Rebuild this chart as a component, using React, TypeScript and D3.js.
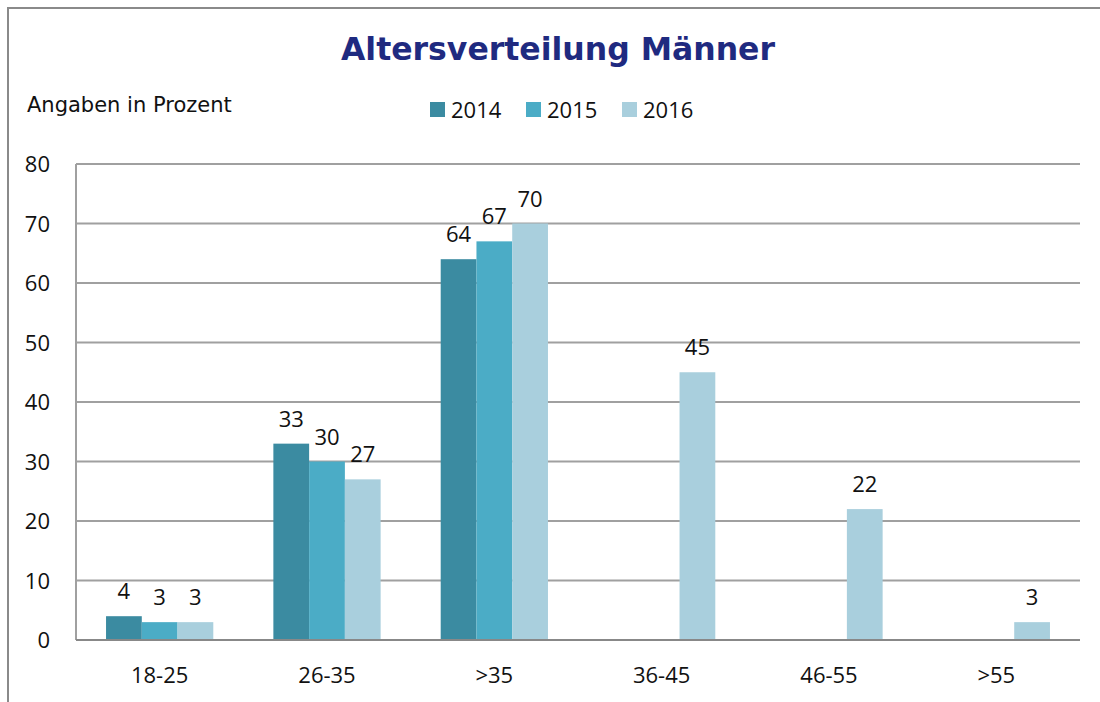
import { useRef, useEffect } from 'react'
import * as d3 from 'd3'

const CATEGORIES = ['18-25', '26-35', '>35', '36-45', '46-55', '>55']
const YEARS = ['2014', '2015', '2016']
const VALUES_2014: (number | null)[] = [4, 33, 64, null, null, null]
const VALUES_2015: (number | null)[] = [3, 30, 67, null, null, null]
const VALUES_2016: (number | null)[] = [3, 27, 70, 45, 22, 3]
const Y_TICKS = [0, 10, 20, 30, 40, 50, 60, 70, 80]

const COLORS = ['#3B8BA1', '#4BACC6', '#A9CFDD']
const W = 1100
const H = 702
const PLOT = { left: 76, right: 1080, top: 164, bottom: 640 }
const FONT = "'Open Sans', 'Liberation Sans', sans-serif"

export default function App() {
  const svgRef = useRef<SVGSVGElement>(null)

  useEffect(() => {
    document.body.style.margin = '0'
    document.body.style.overflow = 'hidden'
    if (!svgRef.current) return
    const svg = d3.select(svgRef.current)
    svg.selectAll('*').remove()

    const series = [VALUES_2014, VALUES_2015, VALUES_2016]

    const x = d3.scaleBand().domain(CATEGORIES).range([PLOT.left, PLOT.right]).paddingInner(0).paddingOuter(0)
    const inner = d3.scaleBand().domain(YEARS).range([0, x.bandwidth()]).paddingOuter(0.84).paddingInner(0)
    const y = d3.scaleLinear().domain([0, 80]).range([PLOT.bottom, PLOT.top])

    svg.append('rect').attr('width', W).attr('height', H).attr('fill', '#fff')

    // outer frame (left + top only visible)
    svg.append('line')
      .attr('x1', 8).attr('x2', 8).attr('y1', 7).attr('y2', H)
      .attr('stroke', '#8A8A8A').attr('stroke-width', 2)
    svg.append('line')
      .attr('x1', 7).attr('x2', W).attr('y1', 8).attr('y2', 8)
      .attr('stroke', '#8A8A8A').attr('stroke-width', 2)

    // title
    svg.append('text')
      .attr('x', 558).attr('y', 60)
      .attr('text-anchor', 'middle')
      .attr('font-family', "'DejaVu Sans', Verdana, sans-serif")
      .attr('font-weight', 'bold').attr('font-size', 31.5)
      .attr('fill', '#1F2A80')
      .text('Altersverteilung Männer')

    svg.append('text')
      .attr('x', 27).attr('y', 112)
      .attr('font-family', "'DejaVu Sans', Verdana, sans-serif")
      .attr('font-size', 21).attr('fill', '#111')
      .text('Angaben in Prozent')

    // legend
    const legendX = [430, 526, 622]
    YEARS.forEach((yr, i) => {
      svg.append('rect')
        .attr('x', legendX[i]).attr('y', 102).attr('width', 15).attr('height', 15)
        .attr('fill', COLORS[i])
      svg.append('text')
        .attr('x', legendX[i] + 21).attr('y', 118)
        .attr('font-family', FONT).attr('font-size', 22).attr('fill', '#111')
        .text(yr)
    })

    // gridlines
    svg.append('g')
      .selectAll('line')
      .data(Y_TICKS.filter((t) => t > 0))
      .join('line')
      .attr('x1', PLOT.left).attr('x2', PLOT.right)
      .attr('y1', (d) => y(d)).attr('y2', (d) => y(d))
      .attr('stroke', '#A0A0A0').attr('stroke-width', 2)

    // y tick labels
    svg.append('g')
      .selectAll('text')
      .data(Y_TICKS)
      .join('text')
      .attr('x', 50).attr('y', (d) => y(d) + 8)
      .attr('text-anchor', 'end')
      .attr('font-family', FONT).attr('font-size', 22).attr('fill', '#111')
      .text((d) => d)

    // bars
    series.forEach((vals, si) => {
      const g = svg.append('g')
      CATEGORIES.forEach((c, ci) => {
        const v = vals[ci]
        if (v == null) return
        const bx = (x(c) ?? 0) + (inner(YEARS[si]) ?? 0)
        g.append('rect')
          .attr('x', bx).attr('y', y(v))
          .attr('width', inner.bandwidth()).attr('height', y(0) - y(v))
          .attr('fill', COLORS[si])
        g.append('text')
          .attr('x', bx + inner.bandwidth() / 2).attr('y', y(v) - 17)
          .attr('text-anchor', 'middle')
          .attr('font-family', FONT).attr('font-size', 22).attr('fill', '#111')
          .text(v)
      })
    })

    // plot left edge + baseline
    svg.append('line')
      .attr('x1', PLOT.left).attr('x2', PLOT.left)
      .attr('y1', PLOT.top).attr('y2', PLOT.bottom)
      .attr('stroke', '#A0A0A0').attr('stroke-width', 2)
    svg.append('line')
      .attr('x1', PLOT.left).attr('x2', PLOT.right)
      .attr('y1', y(0)).attr('y2', y(0))
      .attr('stroke', '#888').attr('stroke-width', 2)

    // x labels
    svg.append('g')
      .selectAll('text')
      .data(CATEGORIES)
      .join('text')
      .attr('x', (d) => (x(d) ?? 0) + x.bandwidth() / 2)
      .attr('y', 683)
      .attr('text-anchor', 'middle')
      .attr('font-family', FONT).attr('font-size', 22).attr('fill', '#111')
      .text((d) => d)
  }, [])

  return (
    <svg ref={svgRef} width={W} height={H} style={{ display: 'block', position: 'absolute', left: 0, top: 0 }} />
  )
}
